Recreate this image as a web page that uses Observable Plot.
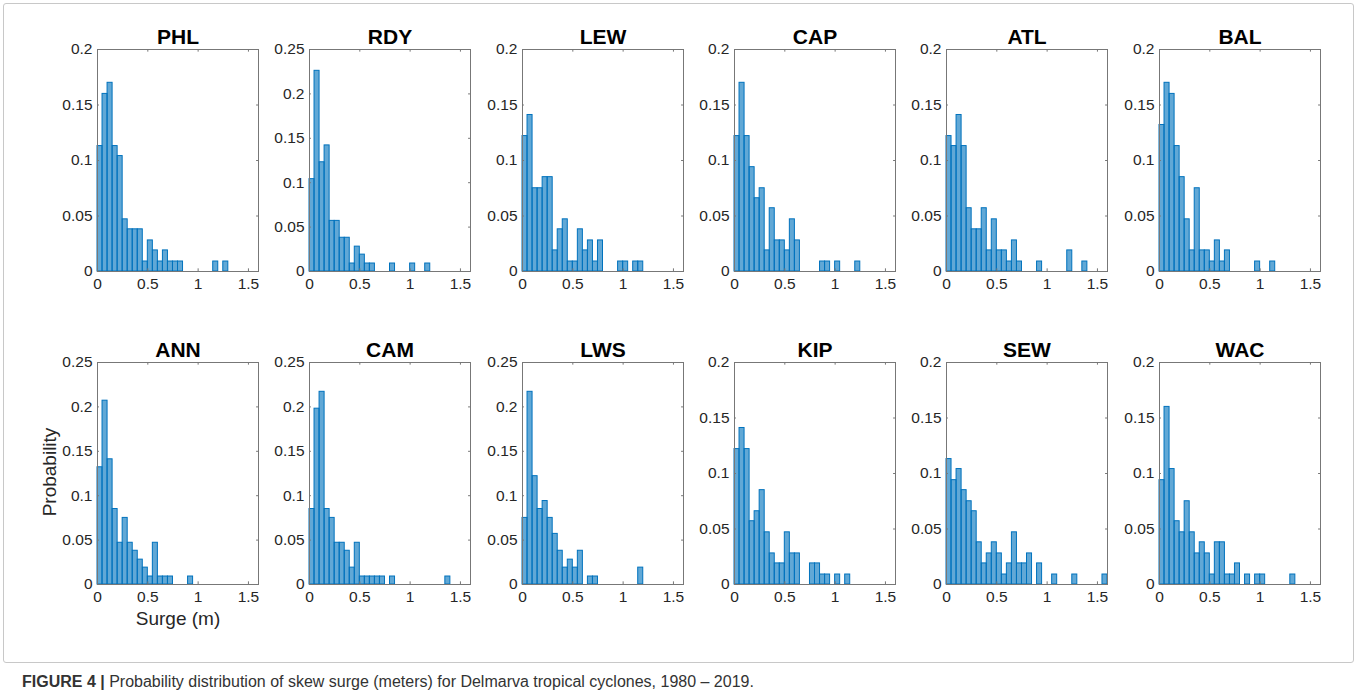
<!DOCTYPE html>
<html><head><meta charset="utf-8">
<script src="https://cdn.jsdelivr.net/npm/d3@7"></script>
<script src="https://cdn.jsdelivr.net/npm/@observablehq/plot@0.6"></script>
<style>
body{margin:0;background:#fff;}
#fig{position:relative;width:1357px;height:699px;overflow:hidden;font-family:"Liberation Sans",Arial,Helvetica,sans-serif;background:#fff;}
.panel{position:absolute;}
.border{position:absolute;left:3px;top:3px;width:1349px;height:658px;border:1px solid #c8c8c8;border-radius:3px;}
.ylab{position:absolute;left:50px;top:472px;transform:translate(-50%,-50%) rotate(-90deg);font-size:19px;color:#262626;white-space:nowrap;}
.xlab{position:absolute;left:178px;top:619px;transform:translate(-50%,-50%);font-size:19px;color:#262626;white-space:nowrap;}
.caption{position:absolute;left:22px;top:673px;font-size:16px;color:#333;white-space:nowrap;font-family:"Liberation Sans",Arial,sans-serif;}
</style></head><body><div id="fig"><div class="border"></div></div>
<script>
// bin width of the histograms (m); arrays give probability per bin starting at 0
const binWidth = 0.05;
const xTicks = [0, 0.5, 1, 1.5];
const yTicks20 = [0, 0.05, 0.1, 0.15, 0.2];
const yTicks25 = [0, 0.05, 0.1, 0.15, 0.2, 0.25];

const stationsTop = ["PHL", "RDY", "LEW", "CAP", "ATL", "BAL"];
const stationsBottom = ["ANN", "CAM", "LWS", "KIP", "SEW", "WAC"];

const PHL = [0.113,0.160,0.170,0.113,0.104,0.047,0.038,0.038,0.038,0.009,0.028,0.019,0.009,0.019,0.009,0.009,0.009,0,0,0,0,0,0,0.009,0,0.009];
const RDY = [0.104,0.226,0.123,0.142,0.057,0.057,0.038,0.038,0.009,0.028,0.019,0.009,0.009,0,0,0,0.009,0,0,0,0.009,0,0,0.009];
const LEW = [0.122,0.141,0.075,0.075,0.085,0.085,0.019,0.038,0.047,0.009,0.009,0.038,0.019,0.028,0.009,0.028,0,0,0,0.009,0.009,0,0.009,0.009];
const CAP = [0.122,0.170,0.122,0.094,0.066,0.075,0.019,0.057,0.028,0.028,0.019,0.047,0.028,0,0,0,0,0.009,0.009,0,0.009,0,0,0,0.009];
const ATL = [0.122,0.113,0.141,0.113,0.057,0.038,0.038,0.057,0.019,0.047,0.019,0.019,0.009,0.028,0.009,0,0,0,0.009,0,0,0,0,0,0.019,0,0,0.009];
const BAL = [0.132,0.170,0.160,0.113,0.085,0.047,0.019,0.075,0.019,0.019,0.009,0.028,0.009,0.019,0,0,0,0,0,0.009,0,0,0.009];
const ANN = [0.132,0.207,0.141,0.085,0.047,0.075,0.047,0.038,0.028,0.019,0.009,0.047,0.009,0.009,0.009,0,0,0,0.009];
const CAM = [0.085,0.198,0.217,0.085,0.075,0.047,0.047,0.038,0.019,0.047,0.009,0.009,0.009,0.009,0.009,0,0.009,0,0,0,0,0,0,0,0,0,0,0.009];
const LWS = [0.075,0.217,0.122,0.085,0.094,0.075,0.057,0.038,0.019,0.028,0.019,0.038,0,0.009,0.009,0,0,0,0,0,0,0,0,0.019];
const KIP = [0.122,0.141,0.122,0.057,0.066,0.085,0.047,0.028,0.019,0.019,0.047,0.028,0.028,0,0,0.019,0.019,0.009,0.009,0,0.009,0,0.009];
const SEW = [0.113,0.094,0.104,0.085,0.075,0.066,0.038,0.019,0.028,0.038,0.028,0.009,0.019,0.047,0.019,0.019,0.028,0,0.019,0,0,0.009,0,0,0,0.009,0,0,0,0,0,0.009];
const WAC = [0.094,0.160,0.104,0.057,0.047,0.075,0.047,0.028,0.038,0.028,0.009,0.038,0.038,0.009,0.009,0.019,0,0.009,0,0.009,0.009,0,0,0,0,0,0.009];

const series = {PHL, RDY, LEW, CAP, ATL, BAL, ANN, CAM, LWS, KIP, SEW, WAC};
const yMax = {PHL:0.2, RDY:0.25, LEW:0.2, CAP:0.2, ATL:0.2, BAL:0.2, ANN:0.25, CAM:0.25, LWS:0.25, KIP:0.2, SEW:0.2, WAC:0.2};
const xMax = 1.6;

// layout
const ML = 50, MR = 8, MT = 36, MB = 30;
const boxW = 161, boxH = 222;
const boxLeft0 = 97, boxStep = 212.3;
const rowTops = [49, 362];

const fmt = d3.format("~g");
const axisColor = "#777";
const labelColor = "#262626";
const barColor = "#0072BD";
const tickFont = 15.5;

function panel(name) {
  const values = series[name];
  const ymax = yMax[name];
  const yTicks = ymax > 0.2 ? yTicks25 : yTicks20;
  const bins = values.map((p, i) => ({x1: i * binWidth, x2: (i + 1) * binWidth, p})).filter(d => d.p > 0);
  const ky = ymax * 0.012, kx = xMax * 0.012;
  return Plot.plot({
    width: ML + boxW + MR, height: MT + boxH + MB,
    marginLeft: ML, marginRight: MR, marginTop: MT, marginBottom: MB,
    style: {fontFamily: "'Liberation Sans', Arial, sans-serif", background: "transparent", overflow: "visible"},
    x: {domain: [0, xMax], axis: null},
    y: {domain: [0, ymax], axis: null},
    marks: [
      Plot.rectY(bins, {x1: "x1", x2: "x2", y: "p", fill: barColor, fillOpacity: 0.62, stroke: barColor, strokeWidth: 1}),
      Plot.frame({stroke: axisColor, strokeWidth: 1}),
      Plot.ruleX(xTicks, {x: d => d, y1: 0, y2: ky, stroke: axisColor}),
      Plot.ruleX(xTicks, {x: d => d, y1: ymax, y2: ymax - ky, stroke: axisColor}),
      Plot.ruleY(yTicks, {y: d => d, x1: 0, x2: kx, stroke: axisColor}),
      Plot.ruleY(yTicks, {y: d => d, x1: xMax, x2: xMax - kx, stroke: axisColor}),
      Plot.text(xTicks, {x: d => d, text: d => fmt(d), frameAnchor: "bottom", lineAnchor: "top", dy: 6, fontSize: tickFont, fill: labelColor}),
      Plot.text(yTicks, {y: d => d, text: d => fmt(d), frameAnchor: "left", textAnchor: "end", dx: -5, fontSize: tickFont, fill: labelColor}),
      Plot.text([name], {frameAnchor: "top", dy: -6, lineAnchor: "bottom", fontWeight: "bold", fontSize: 21, fill: "#000"})
    ]
  });
}

const fig = document.getElementById("fig");
[stationsTop, stationsBottom].forEach((row, r) => {
  row.forEach((name, c) => {
    const div = document.createElement("div");
    div.className = "panel";
    div.style.left = (boxLeft0 + c * boxStep - ML) + "px";
    div.style.top = (rowTops[r] - MT) + "px";
    div.appendChild(panel(name));
    fig.appendChild(div);
  });
});

const yl = document.createElement("div"); yl.className = "ylab"; yl.textContent = "Probability"; fig.appendChild(yl);
const xl = document.createElement("div"); xl.className = "xlab"; xl.textContent = "Surge (m)"; fig.appendChild(xl);
const cap = document.createElement("div"); cap.className = "caption";
cap.innerHTML = "<b>FIGURE 4 |</b> Probability distribution of skew surge (meters) for Delmarva tropical cyclones, 1980 – 2019.";
fig.appendChild(cap);
</script>
</body></html>
